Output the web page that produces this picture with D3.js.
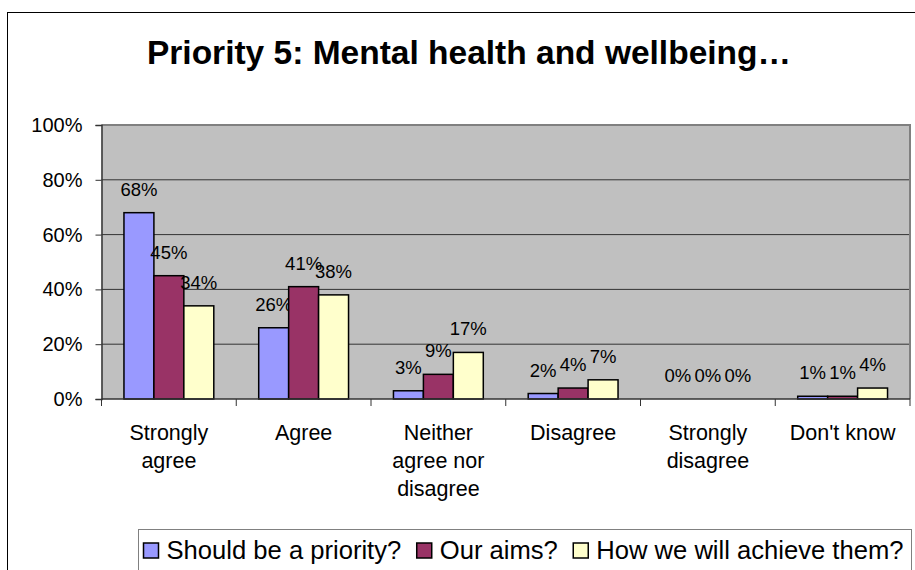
<!DOCTYPE html>
<html>
<head>
<meta charset="utf-8">
<script src="https://cdn.jsdelivr.net/npm/d3@7"></script>
<style>
  html, body { margin: 0; padding: 0; background: #fff; }
  svg { display: block; font-family: Arial, "Liberation Sans", sans-serif; }
</style>
</head>
<body>
<svg id="chart" width="915" height="570"></svg>
<script>
// Survey responses for Priority 5
const categories = ["Strongly agree", "Agree", "Neither agree nor disagree", "Disagree", "Strongly disagree", "Don't know"];
const seriesNames = ["Should be a priority?", "Our aims?", "How we will achieve them?"];
const shouldBePriority = [0.68, 0.26, 0.03, 0.02, 0.00, 0.01];
const ourAims = [0.45, 0.41, 0.09, 0.04, 0.00, 0.01];
const howAchieve = [0.34, 0.38, 0.17, 0.07, 0.00, 0.04];
const seriesColors = ["#9999FF", "#993366", "#FFFFCC"];
const yTicks = [0, 0.2, 0.4, 0.6, 0.8, 1.0];
const titleText = "Priority 5: Mental health and wellbeing\u2026";

const seriesValues = [shouldBePriority, ourAims, howAchieve];

const svg = d3.select("#chart");

// outer chart frame
svg.append("rect")
  .attr("x", 7.5).attr("y", 12.5)
  .attr("width", 960).attr("height", 600)
  .attr("fill", "#fff").attr("stroke", "#000").attr("stroke-width", 1);

// title
svg.append("text")
  .attr("x", 469).attr("y", 64)
  .attr("text-anchor", "middle")
  .attr("font-size", 33.5).attr("font-weight", "bold")
  .attr("fill", "#000")
  .text(titleText);

const plot = { left: 101.5, right: 910, top: 125, bottom: 399 };

const x = d3.scaleBand().domain(categories).range([plot.left, plot.right]).paddingInner(0).paddingOuter(0);
const xs = d3.scaleBand().domain(seriesNames).range([0, x.bandwidth()]).paddingInner(0).paddingOuter(0.75);
const y = d3.scaleLinear().domain([0, 1]).range([plot.bottom, plot.top]);

// plot background
svg.append("rect")
  .attr("x", plot.left).attr("y", plot.top)
  .attr("width", plot.right - plot.left).attr("height", plot.bottom - plot.top)
  .attr("fill", "#C0C0C0");

// gridlines
svg.append("g").selectAll("line")
  .data(yTicks.filter(d => d > 0))
  .join("line")
  .attr("x1", plot.left).attr("x2", plot.right)
  .attr("y1", d => y(d)).attr("y2", d => y(d))
  .attr("stroke", "#333").attr("stroke-width", 1);

// plot border (right/top)
svg.append("path")
  .attr("d", `M${plot.left},${plot.top}H${plot.right}V${plot.bottom}`)
  .attr("fill", "none").attr("stroke", "#808080").attr("stroke-width", 2);

// bars
const groups = svg.append("g").selectAll("g")
  .data(seriesNames)
  .join("g")
  .attr("fill", (d, i) => seriesColors[i]);

groups.selectAll("rect")
  .data((s, si) => categories.map((c, ci) => ({ c, s, v: seriesValues[si][ci] })))
  .join("rect")
  .attr("x", d => x(d.c) + xs(d.s))
  .attr("width", xs.bandwidth())
  .attr("y", d => y(d.v))
  .attr("height", d => y(0) - y(d.v))
  .attr("stroke", "#000")
  .attr("stroke-width", 1.5);

// y axis
const yAxis = svg.append("g")
  .attr("transform", `translate(${plot.left},0)`)
  .call(d3.axisLeft(y).tickValues(yTicks).tickFormat(d3.format(".0%")).tickSize(6).tickPadding(13));
yAxis.select(".domain").attr("stroke", "#333").attr("stroke-width", 1.5);
yAxis.selectAll(".tick line").attr("stroke", "#333");
yAxis.selectAll(".tick text").attr("font-size", 20).attr("fill", "#000")
  .attr("font-family", "Arial, 'Liberation Sans', sans-serif");

// x axis
const xAxis = svg.append("g")
  .attr("transform", `translate(0,${plot.bottom})`);
xAxis.append("line")
  .attr("x1", plot.left).attr("x2", plot.right)
  .attr("stroke", "#333").attr("stroke-width", 1.5);
const boundaries = categories.map(c => x(c)).concat([plot.right]);
xAxis.selectAll("line.tick")
  .data(boundaries)
  .join("line")
  .attr("class", "tick")
  .attr("x1", d => d).attr("x2", d => d)
  .attr("y1", 0).attr("y2", 7)
  .attr("stroke", "#333").attr("stroke-width", 1);

// category labels, wrapped to the band width
const catLabels = xAxis.selectAll("text.cat")
  .data(categories)
  .join("text")
  .attr("class", "cat")
  .attr("text-anchor", "middle")
  .attr("font-size", 21.5)
  .attr("fill", "#000");

catLabels.each(function (c) {
  const t = d3.select(this);
  const cx = x(c) + x.bandwidth() / 2;
  const words = c.split(" ");
  const lines = [];
  let line = [];
  const probe = t.append("tspan");
  words.forEach(w => {
    const trial = line.concat([w]).join(" ");
    probe.text(trial);
    if (probe.node().getComputedTextLength() > 120 && line.length) {
      lines.push(line.join(" "));
      line = [w];
    } else {
      line.push(w);
    }
  });
  lines.push(line.join(" "));
  probe.remove();
  lines.forEach((l, i) => {
    t.append("tspan").attr("x", cx).attr("y", 41 + i * 28).text(l);
  });
});

// value labels
groups.selectAll("text")
  .data((s, si) => categories.map((c, ci) => ({ c, s, v: seriesValues[si][ci] })))
  .join("text")
  .attr("x", d => x(d.c) + xs(d.s) + xs.bandwidth() / 2)
  .attr("y", d => y(d.v) - 17)
  .attr("text-anchor", "middle")
  .attr("font-size", 18.5)
  .attr("fill", "#000")
  .text(d => d3.format(".0%")(d.v));

// legend
const legend = svg.append("g");
const legendBox = { left: 138.5, right: 911.5, top: 529.5 };
legend.append("rect")
  .attr("x", legendBox.left).attr("y", legendBox.top)
  .attr("width", legendBox.right - legendBox.left).attr("height", 60)
  .attr("fill", "#fff").attr("stroke", "#808080").attr("stroke-width", 1);

const swatch = 15, swatchGap = 8;
const legendTexts = seriesNames.map(name =>
  legend.append("text").attr("y", 559).attr("font-size", 25.6).attr("fill", "#000").text(name));
const textWidths = legendTexts.map(t => t.node().getComputedTextLength());
const startX = legendBox.left + 5;
const endX = legendBox.right - 8;
const used = d3.sum(textWidths) + seriesNames.length * (swatch + swatchGap);
const between = (endX - startX - used) / (seriesNames.length - 1);
let lx = startX;
seriesNames.forEach((name, i) => {
  legend.append("rect")
    .attr("x", lx).attr("y", 543)
    .attr("width", swatch).attr("height", swatch)
    .attr("fill", seriesColors[i]).attr("stroke", "#000").attr("stroke-width", 1.5);
  legendTexts[i].attr("x", lx + swatch + swatchGap);
  lx += swatch + swatchGap + textWidths[i] + between;
});
</script>
</body>
</html>
